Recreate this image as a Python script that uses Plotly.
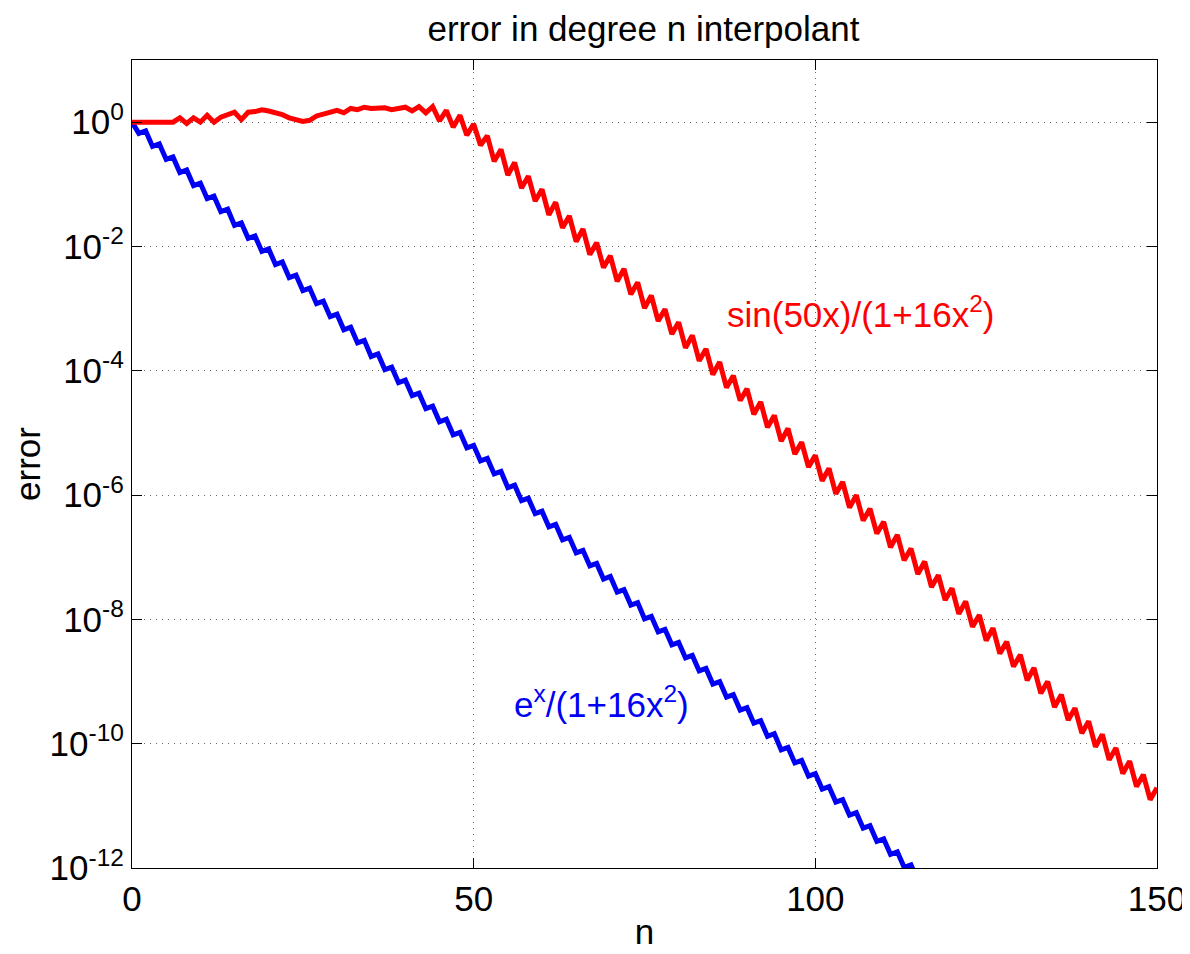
import plotly.graph_objects as go

# degree n of the interpolant
n_blue = list(range(0, 116))
n_red = list(range(0, 151))

# log10 of the error
blue_log10 = [
    0.00, -0.18, -0.14, -0.39, -0.35, -0.60, -0.56, -0.81, -0.77, -1.02,
    -0.98, -1.23, -1.19, -1.44, -1.40, -1.66, -1.62, -1.87, -1.83, -2.08,
    -2.04, -2.29, -2.25, -2.50, -2.46, -2.71, -2.67, -2.92, -2.88, -3.13,
    -3.09, -3.34, -3.30, -3.55, -3.51, -3.77, -3.73, -3.98, -3.94, -4.19,
    -4.15, -4.40, -4.36, -4.61, -4.57, -4.82, -4.78, -5.03, -4.99, -5.24,
    -5.20, -5.45, -5.41, -5.66, -5.62, -5.88, -5.84, -6.09, -6.05, -6.30,
    -6.26, -6.51, -6.47, -6.72, -6.68, -6.93, -6.89, -7.14, -7.10, -7.35,
    -7.31, -7.56, -7.52, -7.77, -7.73, -7.99, -7.95, -8.20, -8.16, -8.41,
    -8.37, -8.62, -8.58, -8.83, -8.79, -9.04, -9.00, -9.25, -9.21, -9.46,
    -9.42, -9.67, -9.63, -9.88, -9.84, -10.10, -10.06, -10.31, -10.27, -10.52,
    -10.48, -10.73, -10.69, -10.94, -10.90, -11.15, -11.11, -11.36, -11.32, -11.57,
    -11.53, -11.78, -11.74, -11.99, -11.95, -12.21,
]

red_log10 = [
    0.00, 0.00, 0.00, 0.00, 0.00, 0.01, 0.00, 0.07, -0.02, 0.07,
    0.00, 0.11, 0.00, 0.08, 0.13, 0.16, 0.04, 0.16, 0.17, 0.20,
    0.18, 0.16, 0.12, 0.07, 0.03, 0.01, 0.03, 0.10, 0.13, 0.16,
    0.19, 0.15, 0.22, 0.20, 0.24, 0.22, 0.23, 0.23, 0.20, 0.21,
    0.24, 0.18, 0.25, 0.15, 0.25, 0.02, 0.19, -0.08, 0.11, -0.21,
    -0.03, -0.37, -0.22, -0.63, -0.44, -0.85, -0.65, -1.06, -0.87, -1.27,
    -1.08, -1.49, -1.29, -1.70, -1.51, -1.92, -1.72, -2.13, -1.94, -2.34,
    -2.15, -2.56, -2.36, -2.77, -2.58, -2.99, -2.79, -3.20, -3.01, -3.41,
    -3.22, -3.63, -3.43, -3.84, -3.65, -4.06, -3.86, -4.27, -4.08, -4.48,
    -4.29, -4.70, -4.50, -4.91, -4.72, -5.13, -4.93, -5.34, -5.15, -5.55,
    -5.36, -5.77, -5.57, -5.98, -5.79, -6.20, -6.00, -6.41, -6.22, -6.62,
    -6.43, -6.84, -6.64, -7.05, -6.86, -7.27, -7.07, -7.48, -7.29, -7.69,
    -7.50, -7.91, -7.71, -8.12, -7.93, -8.34, -8.14, -8.55, -8.36, -8.76,
    -8.57, -8.98, -8.78, -9.19, -9.00, -9.41, -9.21, -9.62, -9.43, -9.83,
    -9.64, -10.05, -9.85, -10.26, -10.07, -10.48, -10.28, -10.69, -10.50, -10.90,
    -10.71,
]

x_ticks = [0, 50, 100, 150]
y_tick_exp = [0, -2, -4, -6, -8, -10, -12]
y_tick_text = ["10<sup>0</sup>", "10<sup>-2</sup>", "10<sup>-4</sup>", "10<sup>-6</sup>",
               "10<sup>-8</sup>", "10<sup>-10</sup>", "10<sup>-12</sup>"]

blue_err = [10 ** v for v in blue_log10]
red_err = [10 ** v for v in red_log10]

FONT = "Arial, Liberation Sans, sans-serif"
FS = 35

fig = go.Figure()
fig.add_trace(go.Scatter(x=n_blue, y=blue_err, mode="lines",
                         line=dict(color="#0000f5", width=5), showlegend=False))
fig.add_trace(go.Scatter(x=n_red, y=red_err, mode="lines",
                         line=dict(color="#ff0000", width=5), showlegend=False))

fig.add_annotation(x=86.8, y=-3.05, xref="x", yref="y", xanchor="left", yanchor="middle",
                   text="sin(50x)/(1+16x<sup>2</sup>)", showarrow=False,
                   font=dict(family=FONT, size=FS, color="#ff0000"))
fig.add_annotation(x=68.7, y=-9.33, xref="x", yref="y", xanchor="center", yanchor="middle",
                   text="e<sup>x</sup>/(1+16x<sup>2</sup>)", showarrow=False,
                   font=dict(family=FONT, size=FS, color="#0000f5"))

axis_common = dict(showline=True, linecolor="black", linewidth=1.2, mirror="ticks",
                   ticks="inside", ticklen=10, tickwidth=1.2, tickcolor="black",
                   showgrid=True, gridcolor="#666666", gridwidth=1, griddash="1px,5px",
                   zeroline=False, tickfont=dict(family=FONT, size=FS, color="black"))

fig.update_xaxes(range=[0, 150], tickvals=x_ticks,
                 title=dict(text="n", font=dict(family=FONT, size=FS, color="black"), standoff=2),
                 **axis_common)
fig.update_yaxes(type="log", range=[-12, 1], tickvals=[10 ** e for e in y_tick_exp],
                 ticktext=y_tick_text,
                 title=dict(text="error", font=dict(family=FONT, size=FS, color="black"), standoff=6),
                 **axis_common)

fig.update_layout(
    width=1190, height=954,
    margin=dict(l=124, r=41, t=52, b=94),
    paper_bgcolor="white", plot_bgcolor="white",
    title=dict(text="error in degree n interpolant", x=0.534, xanchor="center",
               y=1.0, yanchor="top", yref="container", pad=dict(t=8),
               font=dict(family=FONT, size=FS, color="black")),
)

fig.write_html("out.html")
